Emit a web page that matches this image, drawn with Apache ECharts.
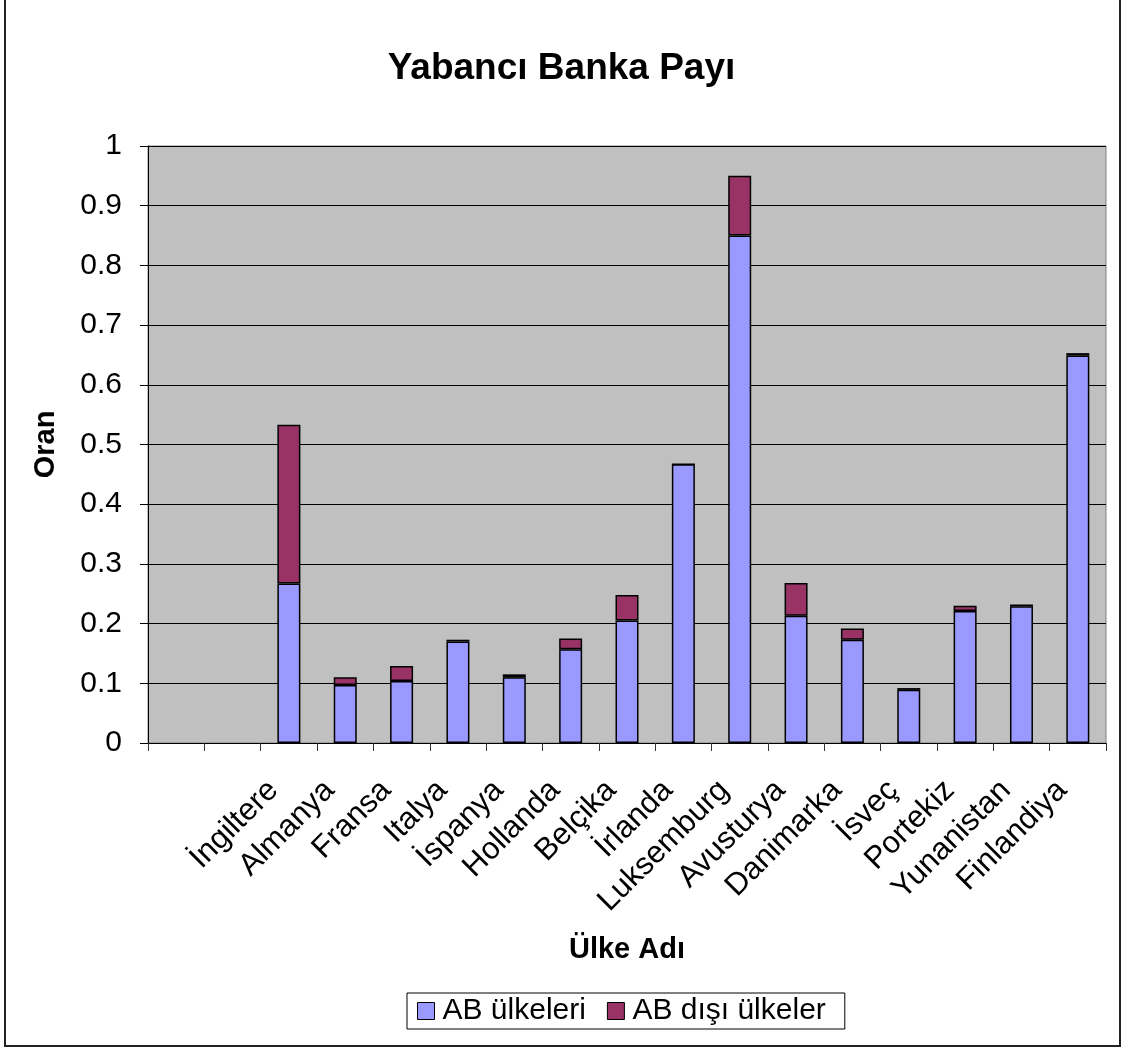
<!DOCTYPE html>
<html>
<head>
<meta charset="utf-8">
<script src="https://cdn.jsdelivr.net/npm/echarts@6/dist/echarts.min.js"></script>
<style>
html,body{margin:0;padding:0;background:#fff;}
#chart{width:1123px;height:1049px;}
</style>
</head>
<body>
<div id="chart"></div>
<script>
var categories = ['', '', 'İngiltere', 'Almanya', 'Fransa', 'Italya', 'İspanya', 'Hollanda', 'Belçika', 'İrlanda', 'Luksemburg', 'Avusturya', 'Danimarka', 'İsveç', 'Portekiz', 'Yunanistan', 'Finlandiya'];
var abValues = [null, null, 0.267, 0.097, 0.104, 0.170, 0.110, 0.157, 0.205, 0.467, 0.850, 0.213, 0.173, 0.089, 0.221, 0.229, 0.649];
var nonAbValues = [null, null, 0.266, 0.013, 0.025, 0.003, 0.005, 0.018, 0.043, 0, 0.100, 0.055, 0.019, 0.003, 0.009, 0.003, 0.004];
var yTicks = [0, 0.1, 0.2, 0.3, 0.4, 0.5, 0.6, 0.7, 0.8, 0.9, 1];
var seriesNames = ['AB ülkeleri', 'AB dışı ülkeler'];
var titleText = 'Yabancı Banka Payı';
var xName = 'Ülke Adı';
var yName = 'Oran';

var FONT = '"Liberation Sans", Arial, sans-serif';
var chart = echarts.init(document.getElementById('chart'), null, {renderer: 'canvas'});
var option = {
  animation: false,
  backgroundColor: '#ffffff',
  textStyle: {fontFamily: FONT, color: '#000'},
  title: {
    text: titleText,
    left: 'center',
    top: 50,
    padding: 0,
    textStyle: {fontFamily: FONT, fontSize: 37, fontWeight: 'bold', color: '#000'}
  },
  legend: {
    left: 407,
    top: 993,
    orient: 'horizontal',
    padding: [3, 19, 3, 10],
    itemGap: 21,
    itemWidth: 17,
    itemHeight: 17,
    icon: 'rect',
    borderColor: '#000',
    borderWidth: 1,
    backgroundColor: '#fff',
    textStyle: {fontFamily: FONT, fontSize: 30, color: '#000', padding: [0, 0, 0, 3]},
    itemStyle: {borderColor: '#000', borderWidth: 1},
    data: seriesNames
  },
  grid: {
    left: 148, right: 17, top: 146, bottom: 306,
    show: true,
    backgroundColor: '#C0C0C0',
    borderColor: '#808080',
    borderWidth: 1,
    containLabel: false,
    outerBoundsMode: 'none'
  },
  xAxis: {
    type: 'category',
    data: categories,
    boundaryGap: true,
    name: xName,
    nameLocation: 'middle',
    nameGap: 192,
    nameMoveOverlap: false,
    nameTextStyle: {fontFamily: FONT, fontSize: 29, fontWeight: 'bold', color: '#000'},
    axisLine: {show: true, lineStyle: {color: '#000', width: 1}},
    axisTick: {show: true, alignWithLabel: false, interval: 0, length: 8, lineStyle: {color: '#333'}},
    axisLabel: {
      interval: 0,
      rotate: 45,
      margin: 27,
      fontFamily: FONT,
      fontSize: 31,
      color: '#000',
      padding: [0, 22, 0, 0]
    },
    splitLine: {show: false}
  },
  yAxis: {
    type: 'value',
    min: 0,
    max: 1,
    interval: 0.1,
    name: yName,
    nameLocation: 'middle',
    nameGap: 88,
    nameMoveOverlap: false,
    nameTextStyle: {fontFamily: FONT, fontSize: 29, fontWeight: 'bold', color: '#000'},
    axisLine: {show: true, lineStyle: {color: '#000', width: 1}},
    axisTick: {show: true, length: 8, lineStyle: {color: '#000'}},
    axisLabel: {
      margin: 26,
      fontFamily: FONT,
      fontSize: 30,
      color: '#000',
      formatter: function (v) {
        var s = yTicks.find(function (t) { return Math.abs(t - v) < 1e-9; });
        return String(s !== undefined ? s : v);
      }
    },
    splitLine: {show: true, lineStyle: {color: '#000', width: 1}}
  },
  series: [
    {
      name: seriesNames[0],
      type: 'bar',
      stack: 'total',
      barWidth: 23,
      data: abValues,
      itemStyle: {color: '#9999FF', borderColor: '#000', borderWidth: 1.5}
    },
    {
      name: seriesNames[1],
      type: 'bar',
      stack: 'total',
      barWidth: 23,
      data: nonAbValues,
      itemStyle: {color: '#993366', borderColor: '#000', borderWidth: 1.5}
    }
  ],
  graphic: [
    {
      type: 'rect',
      silent: true,
      z: 100,
      shape: {x: 5, y: -5, width: 1115, height: 1051},
      style: {fill: 'none', stroke: '#222', lineWidth: 2}
    }
  ]
};
chart.setOption(option);
</script>
</body>
</html>
